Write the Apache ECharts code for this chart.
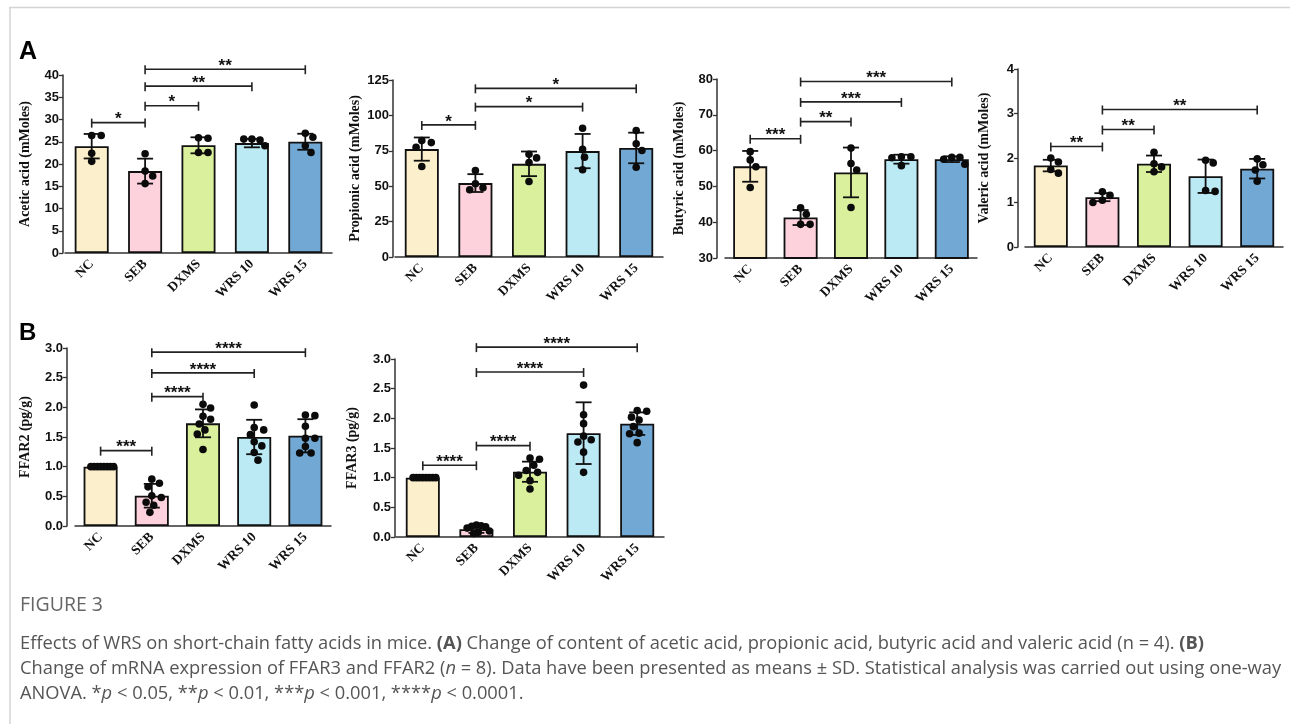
<!DOCTYPE html>
<html><head><meta charset="utf-8">
<script src="https://cdn.jsdelivr.net/npm/echarts@6/dist/echarts.min.js"></script>
<style>html,body{margin:0;padding:0;background:#fff}#c{width:1290px;height:724px}</style>
</head><body><div id="c"></div>
<script>
// ---------- DATA ----------
const categories = ['NC', 'SEB', 'DXMS', 'WRS 10', 'WRS 15'];

const aceticMean = [24.0, 18.4, 24.2, 24.7, 25.0];
const aceticSD   = [2.75, 2.8, 1.8, 0.95, 1.8];
const aceticDots = [[26.4, 26.4, 22.4, 20.6], [22.3, 18.4, 17.3, 15.6], [25.9, 25.8, 22.6, 22.6], [25.6, 25.4, 25.6, 24.1], [26.9, 26.0, 24.1, 22.6]];
const aceticSigPairs  = [[0, 1], [1, 2], [1, 3], [1, 4]];
const aceticSigLevels = [29.3, 33.1, 37.5, 41.3];
const aceticSigLabels = ['*', '*', '**', '**'];

const propionicMean = [76.2, 52.2, 65.8, 74.8, 77.0];
const propionicSD   = [8.2, 6.3, 8.7, 12.1, 10.8];
const propionicDots = [[82.2, 80.8, 77.5, 63.9], [61.1, 51.7, 48.9, 47.5], [72.6, 70.0, 66.7, 53.3], [90.9, 76.1, 70.5, 61.6], [89.3, 79.9, 75.2, 63.4]];
const propionicSigPairs  = [[0, 1], [1, 3], [1, 4]];
const propionicSigLevels = [93.3, 106.2, 119.1];
const propionicSigLabels = ['*', '*', '*'];

const butyricMean = [55.6, 41.3, 53.9, 57.6, 57.6];
const butyricSD   = [4.3, 2.1, 6.95, 1.25, 0.8];
const butyricDots = [[59.7, 57.4, 55.5, 49.7], [44.0, 42.2, 39.4, 39.4], [60.7, 56.4, 54.6, 44.1], [58.3, 58.3, 58.0, 55.8], [58.1, 58.1, 57.6, 56.2]];
const butyricSigPairs  = [[0, 1], [1, 2], [1, 3], [1, 4]];
const butyricSigLevels = [63.3, 68.1, 73.6, 79.3];
const butyricSigLabels = ['***', '**', '***', '***'];

const valericMean = [1.83, 1.12, 1.87, 1.59, 1.76];
const valericSD   = [0.13, 0.09, 0.185, 0.375, 0.22];
const valericDots = [[2.0, 1.91, 1.74, 1.66], [1.24, 1.16, 1.05, 1.0], [2.13, 1.87, 1.80, 1.69], [1.95, 1.89, 1.27, 1.25], [1.98, 1.85, 1.73, 1.48]];
const valericSigPairs  = [[0, 1], [1, 2], [1, 4]];
const valericSigLevels = [2.26, 2.64, 3.09];
const valericSigLabels = ['**', '**', '**'];

const ffar2Mean = [1.0, 0.51, 1.73, 1.50, 1.52];
const ffar2SD   = [0.0, 0.20, 0.235, 0.29, 0.28];
const ffar2Dots = [[1, 1, 1, 1, 1, 1, 1, 1], [0.79, 0.72, 0.66, 0.51, 0.48, 0.40, 0.35, 0.23], [2.05, 1.99, 1.85, 1.80, 1.72, 1.62, 1.55, 1.29], [2.04, 1.66, 1.62, 1.54, 1.42, 1.35, 1.24, 1.11], [1.87, 1.86, 1.68, 1.48, 1.48, 1.34, 1.23, 1.23]];
const ffar2SigPairs  = [[0, 1], [1, 2], [1, 3], [1, 4]];
const ffar2SigLevels = [1.27, 2.18, 2.58, 2.93];
const ffar2SigLabels = ['***', '****', '****', '****'];

const ffar3Mean = [1.0, 0.13, 1.10, 1.75, 1.91];
const ffar3SD   = [0.0, 0.06, 0.17, 0.52, 0.19];
const ffar3Dots = [[1, 1, 1, 1, 1, 1, 1, 1], [0.20, 0.19, 0.18, 0.17, 0.15, 0.10, 0.08, 0.06], [1.33, 1.31, 1.21, 1.12, 1.09, 1.04, 0.95, 0.81], [2.56, 2.06, 1.91, 1.70, 1.64, 1.60, 1.43, 1.09], [2.13, 2.12, 2.02, 1.97, 1.86, 1.75, 1.74, 1.59]];
const ffar3SigPairs  = [[0, 1], [1, 2], [1, 3], [1, 4]];
const ffar3SigLevels = [1.21, 1.54, 2.78, 3.2];
const ffar3SigLabels = ['****', '****', '****', '****'];

const yTicks = {
  acetic: [0, 40, 5], propionic: [0, 125, 25], butyric: [30, 80, 10],
  valeric: [0, 4, 1], ffar2: [0, 3, 0.5], ffar3: [0, 3, 0.5]
};

// ---------- LAYOUT / STYLE ----------
const barColors = ['#FCEFCB', '#FED2DC', '#DAF09C', '#BBEAF4', '#72A8D4'];
const panels = [
  {name: 'Acetic acid (mMoles)', mean: aceticMean, sd: aceticSD, dots: aceticDots, pairs: aceticSigPairs, levels: aceticSigLevels, labels: aceticSigLabels, ax: yTicks.acetic, dec: 0,
   grid: {left: 65, top: 75, width: 267, height: 178}, off: 2, gap: 31},
  {name: 'Propionic acid (mMoles)', mean: propionicMean, sd: propionicSD, dots: propionicDots, pairs: propionicSigPairs, levels: propionicSigLevels, labels: propionicSigLabels, ax: yTicks.propionic, dec: 0,
   grid: {left: 395, top: 80, width: 268, height: 177}, off: 2, gap: 31},
  {name: 'Butyric acid (mMoles)', mean: butyricMean, sd: butyricSD, dots: butyricDots, pairs: butyricSigPairs, levels: butyricSigLevels, labels: butyricSigLabels, ax: yTicks.butyric, dec: 0,
   grid: {left: 725, top: 79, width: 252, height: 179}, off: 8, gap: 31},
  {name: 'Valeric acid (mMoles)', mean: valericMean, sd: valericSD, dots: valericDots, pairs: valericSigPairs, levels: valericSigLevels, labels: valericSigLabels, ax: yTicks.valeric, dec: 0,
   grid: {left: 1025, top: 69, width: 258, height: 178}, off: 7, gap: 27},
  {name: 'FFAR2 (pg/g)', mean: ffar2Mean, sd: ffar2SD, dots: ffar2Dots, pairs: ffar2SigPairs, levels: ffar2SigLevels, labels: ffar2SigLabels, ax: yTicks.ffar2, dec: 1,
   grid: {left: 75, top: 348, width: 256, height: 178}, off: 8, gap: 35},
  {name: 'FFAR3 (pg/g)', mean: ffar3Mean, sd: ffar3SD, dots: ffar3Dots, pairs: ffar3SigPairs, levels: ffar3SigLevels, labels: ffar3SigLabels, ax: yTicks.ffar3, dec: 1,
   grid: {left: 396, top: 359, width: 268, height: 178}, off: 1, gap: 36}
];

const axisColor = '#333';
const grids = [], xAxes = [], yAxes = [], series = [];

function beeswarm(points, r) {
  const placed = [];
  const dmin = 2 * r * 1.05, step = r * 0.5;
  points.forEach(p => {
    for (let k = 0; k < 200; k++) {
      const m = Math.ceil(k / 2) * (k % 2 === 1 ? 1 : -1);
      const x = p[0] + m * step;
      let ok = true;
      for (const q of placed) {
        const dx = q[0] - x, dy = q[1] - p[1];
        if (dx * dx + dy * dy < dmin * dmin) { ok = false; break; }
      }
      if (ok) { placed.push([x, p[1]]); return; }
    }
    placed.push(p.slice());
  });
  return placed;
}

panels.forEach((pn, k) => {
  grids.push(Object.assign({containLabel: false}, pn.grid));
  xAxes.push({
    type: 'category', gridIndex: k, data: categories,
    axisLine: {lineStyle: {color: axisColor, width: 1.5}},
    axisTick: {alignWithLabel: true, length: 4, lineStyle: {color: axisColor, width: 1.3}},
    axisLabel: {rotate: 45, interval: 0, margin: 9, color: '#111', fontFamily: 'Liberation Serif', fontWeight: 'bold', fontSize: 13.5},
    splitLine: {show: false}
  });
  yAxes.push({
    type: 'value', gridIndex: k, min: pn.ax[0], max: pn.ax[1], interval: pn.ax[2], offset: pn.off,
    name: pn.name, nameLocation: 'middle', nameGap: pn.gap,
    nameTextStyle: {fontFamily: 'Liberation Serif', fontWeight: 'bold', fontSize: 14, color: '#111'},
    axisLine: {show: true, lineStyle: {color: axisColor, width: 1.5}},
    axisTick: {show: true, length: 4, lineStyle: {color: axisColor, width: 1.3}},
    axisLabel: {margin: 4, color: '#111', fontFamily: 'Liberation Sans', fontWeight: 'bold', fontSize: 13,
      formatter: v => v.toFixed(pn.dec)},
    splitLine: {show: false}
  });
  // bars
  series.push({
    type: 'bar', xAxisIndex: k, yAxisIndex: k, barWidth: 34,
    data: pn.mean.map((v, i) => ({value: v, itemStyle: {color: barColors[i]}})),
    itemStyle: {borderColor: '#111', borderWidth: 1.8},
    silent: true, animation: false
  });
  // error bars
  series.push({
    type: 'custom', xAxisIndex: k, yAxisIndex: k, animation: false, silent: true, z: 3,
    encode: {x: 0, y: 1},
    data: pn.mean.map((m, i) => [i, m, pn.sd[i]]),
    renderItem: (params, api) => {
      const i = api.value(0), m = api.value(1), s = api.value(2);
      const top = api.coord([i, m + s]), bot = api.coord([i, m - s]);
      const w = 8, st = {stroke: '#111', lineWidth: 1.8};
      return {type: 'group', children: [
        {type: 'line', shape: {x1: top[0], y1: top[1], x2: bot[0], y2: bot[1]}, style: st},
        {type: 'line', shape: {x1: top[0] - w, y1: top[1], x2: top[0] + w, y2: top[1]}, style: st},
        {type: 'line', shape: {x1: bot[0] - w, y1: bot[1], x2: bot[0] + w, y2: bot[1]}, style: st}
      ]};
    }
  });
  // dots
  series.push({
    type: 'custom', xAxisIndex: k, yAxisIndex: k, animation: false, silent: true, z: 4,
    encode: {x: 0, y: 1},
    data: pn.mean.map((m, i) => [i, m]),
    renderItem: (params, api) => {
      const i = api.value(0);
      const r = 3.8;
      const pts = pn.dots[i].map(v => api.coord([i, v]));
      let sw = beeswarm(pts, r);
      const cx = api.coord([i, 0])[0];
      let maxOff = 0;
      sw.forEach(p => { maxOff = Math.max(maxOff, Math.abs(p[0] - cx)); });
      const lim = 13;
      if (maxOff > lim) sw = sw.map(p => [cx + (p[0] - cx) * lim / maxOff, p[1]]);
      return {type: 'group', children: sw.map(p => ({
        type: 'circle', shape: {cx: p[0], cy: p[1], r: r}, style: {fill: '#0b0b0b'}
      }))};
    }
  });
  // significance brackets
  series.push({
    type: 'custom', xAxisIndex: k, yAxisIndex: k, animation: false, silent: true, z: 5, clip: false,
    encode: {x: [0, 1], y: 2},
    data: pn.pairs.map((p, j) => [p[0], p[1], pn.levels[j], j]),
    renderItem: (params, api) => {
      const a = api.coord([api.value(0), api.value(2)]);
      const b = api.coord([api.value(1), api.value(2)]);
      const lab = pn.labels[api.value(3)];
      const st = {stroke: '#222', lineWidth: 1.6};
      return {type: 'group', children: [
        {type: 'line', shape: {x1: a[0], y1: a[1], x2: b[0], y2: b[1]}, style: st},
        {type: 'line', shape: {x1: a[0], y1: a[1] - 4, x2: a[0], y2: a[1] + 5}, style: st},
        {type: 'line', shape: {x1: b[0], y1: b[1] - 4, x2: b[0], y2: b[1] + 5}, style: st},
        {type: 'text', style: {x: (a[0] + b[0]) / 2, y: a[1] - 3, text: lab, align: 'center', verticalAlign: 'middle',
          fill: '#111', font: 'bold 17px "Liberation Sans"'}}
      ]};
    }
  });
});

const captionFont = '"Open Sans"';
const capSize = 18.3;
const chart = echarts.init(document.getElementById('c'), null, {renderer: 'canvas'});
chart.setOption({
  backgroundColor: '#fff',
  animation: false,
  grid: grids, xAxis: xAxes, yAxis: yAxes, series: series,
  graphic: [
    {type: 'line', shape: {x1: 9, y1: 7.5, x2: 1290, y2: 7.5}, style: {stroke: '#d4d4d4', lineWidth: 1.5}},
    {type: 'line', shape: {x1: 10, y1: 7, x2: 10, y2: 724}, style: {stroke: '#d4d4d4', lineWidth: 1.5}},
    {type: 'text', left: 19, top: 40, style: {text: 'A', font: 'bold 25px "Liberation Sans"', fill: '#000'}},
    {type: 'text', left: 19, top: 321, style: {text: 'B', font: 'bold 24px "Liberation Sans"', fill: '#000'}},
    {type: 'text', left: 20, top: 595, style: {text: 'FIGURE 3', font: '19.5px ' + captionFont, fill: '#666'}},
    {type: 'text', left: 20, top: 635, style: {
      text: 'Effects of WRS on short-chain fatty acids in mice. {b|(A)} Change of content of acetic acid, propionic acid, butyric acid and valeric acid (n = 4). {b|(B)}',
      font: capSize + 'px ' + captionFont, fill: '#555',
      rich: {b: {fontWeight: 'bold', fontFamily: captionFont, fontSize: capSize, fill: '#555'}}}},
    {type: 'text', left: 20, top: 660, style: {
      text: 'Change of mRNA expression of FFAR3 and FFAR2 ({i|n} = 8). Data have been presented as means ± SD. Statistical analysis was carried out using one-way',
      font: capSize + 'px ' + captionFont, fill: '#555',
      rich: {i: {fontStyle: 'italic', fontFamily: captionFont, fontSize: capSize, fill: '#555'}}}},
    {type: 'text', left: 20, top: 685, style: {
      text: 'ANOVA. *{i|p} < 0.05, **{i|p} < 0.01, ***{i|p} < 0.001, ****{i|p} < 0.0001.',
      font: capSize + 'px ' + captionFont, fill: '#555',
      rich: {i: {fontStyle: 'italic', fontFamily: captionFont, fontSize: capSize, fill: '#555'}}}}
  ]
});
</script></body></html>
